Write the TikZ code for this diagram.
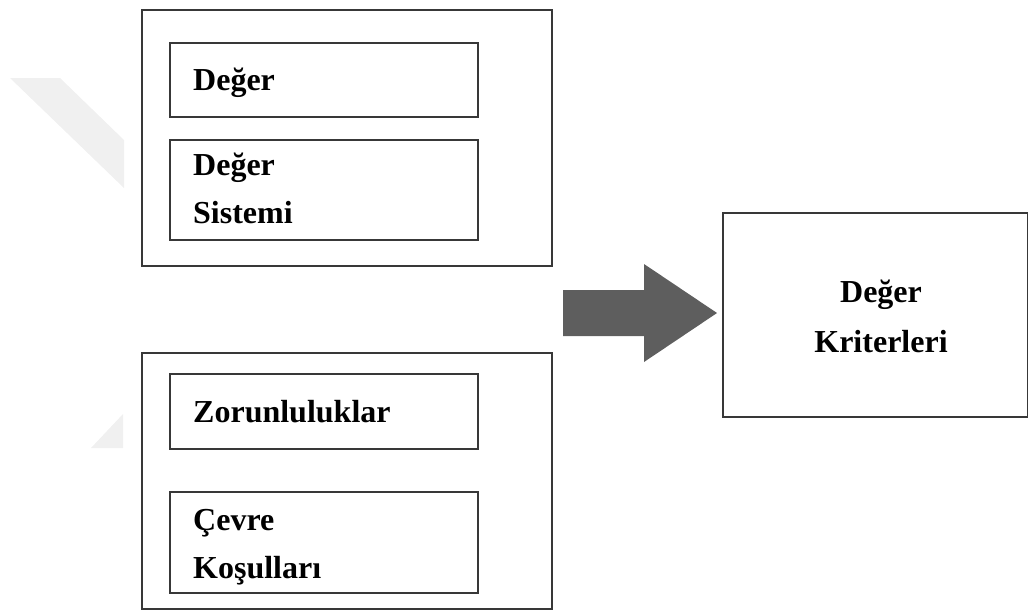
\documentclass[tikz,border=0pt]{standalone}
\usepackage{fontspec}
\setmainfont{Liberation Serif}
\begin{document}
\begin{tikzpicture}[x=1pt,y=-1pt,
  frame/.style={draw=black!78,line width=1.6pt,inner sep=0pt,anchor=north west},
  label/.style={inner sep=0pt,anchor=base west,font=\fontsize{32}{48}\selectfont\bfseries,align=left},
  clabel/.style={inner sep=0pt,anchor=base,font=\fontsize{32}{50}\selectfont\bfseries,align=center},
  faintshape/.style={fill=black!6,draw=none}]
\useasboundingbox (0,0) rectangle (1028,614);

% faint background shapes
\fill[faintshape] (10,78) -- (60,78) -- (124,140) -- (124,188) -- cycle;
\fill[faintshape] (123,414) -- (123,448) -- (91,448) -- cycle;

% upper group
\node[frame,minimum width=410pt,minimum height=256pt] (grpA) at (141,9) {};
\node[frame,minimum width=308pt,minimum height=74pt] (deger) at (169,42) {};
\node[frame,minimum width=308pt,minimum height=100pt] (sistem) at (169,139) {};
\node[label] (tDeger) at (193,90) {Değer};
\node[label] (tSistem) at (193,223) {Değer\\Sistemi};

% lower group
\node[frame,minimum width=410pt,minimum height=256pt] (grpB) at (141,352) {};
\node[frame,minimum width=308pt,minimum height=75pt] (zor) at (169,373) {};
\node[frame,minimum width=308pt,minimum height=101pt] (cevre) at (169,491) {};
\node[label] (tZor) at (193,422) {Zorunluluklar};
\node[label] (tCevre) at (193,578) {Çevre\\Koşulları};

% result box
\node[frame,minimum width=305pt,minimum height=204pt] (krit) at (722,212) {};
\node[clabel] (tKrit) at (881,352) {Değer\\Kriterleri};

% block arrow
\fill[black!63] (563,290) -- (644,290) -- (644,264) -- (717,313)
  -- (644,362) -- (644,336) -- (563,336) -- cycle;
\end{tikzpicture}
\end{document}
